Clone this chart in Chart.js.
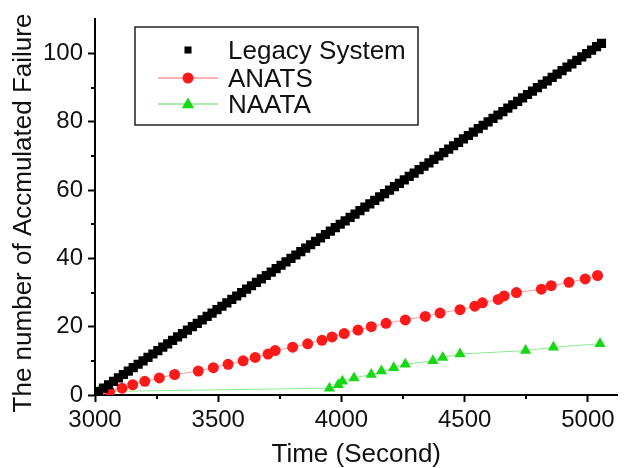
<!DOCTYPE html>
<html>
<head>
<meta charset="utf-8">
<script src="https://cdn.jsdelivr.net/npm/chart.js@4.4.1/dist/chart.umd.min.js"></script>
<style>
  html, body { margin: 0; padding: 0; background: #fff; }
  #wrap { width: 624px; height: 468px; }
</style>
</head>
<body>
<div id="wrap"><canvas id="failChart"></canvas></div>
<script>
// Valori
const seriesNames = ['Legacy System', 'ANATS', 'NAATA'];
const yTitle = 'The number of Accmulated Failure';
const xTitle = 'Time (Second)';

const legacyTime = [
  3015, 3035, 3055, 3075, 3095, 3115, 3135, 3155, 3175, 3195,
  3215, 3235, 3255, 3275, 3295, 3315, 3335, 3355, 3375, 3395,
  3415, 3435, 3455, 3475, 3495, 3515, 3535, 3555, 3575, 3595,
  3615, 3635, 3655, 3675, 3695, 3715, 3735, 3755, 3775, 3795,
  3815, 3835, 3855, 3875, 3895, 3915, 3935, 3955, 3975, 3995,
  4015, 4035, 4055, 4075, 4095, 4115, 4135, 4155, 4175, 4195,
  4215, 4235, 4255, 4275, 4295, 4315, 4335, 4355, 4375, 4395,
  4415, 4435, 4455, 4475, 4495, 4515, 4535, 4555, 4575, 4595,
  4615, 4635, 4655, 4675, 4695, 4715, 4735, 4755, 4775, 4795,
  4815, 4835, 4855, 4875, 4895, 4915, 4935, 4955, 4975, 4995,
  5015, 5035, 5055
];
const legacyFailures = [
  1, 2, 3, 4, 5, 6, 7, 8, 9, 10,
  11, 12, 13, 14, 15, 16, 17, 18, 19, 20,
  21, 22, 23, 24, 25, 26, 27, 28, 29, 30,
  31, 32, 33, 34, 35, 36, 37, 38, 39, 40,
  41, 42, 43, 44, 45, 46, 47, 48, 49, 50,
  51, 52, 53, 54, 55, 56, 57, 58, 59, 60,
  61, 62, 63, 64, 65, 66, 67, 68, 69, 70,
  71, 72, 73, 74, 75, 76, 77, 78, 79, 80,
  81, 82, 83, 84, 85, 86, 87, 88, 89, 90,
  91, 92, 93, 94, 95, 96, 97, 98, 99, 100,
  101, 102, 103
];

const anatsTime = [
  3059, 3110, 3153, 3202, 3261, 3323, 3419, 3480, 3540, 3601,
  3650, 3702, 3731, 3802, 3863, 3921, 3962, 4011, 4067, 4121,
  4181, 4259, 4340, 4400, 4481, 4541, 4572, 4636, 4660, 4710,
  4811, 4851, 4923, 4989, 5039
];
const anatsFailures = [
  1, 2, 3, 4, 5, 6, 7, 8, 9, 10,
  11, 12, 13, 14, 15, 16, 17, 18, 19, 20,
  21, 22, 23, 24, 25, 26, 27, 28, 29, 30,
  31, 32, 33, 34, 35
];

const naataTime = [3014, 3951, 3987, 4004, 4051, 4121, 4162, 4212, 4259, 4371, 4411, 4481, 4747, 4860, 5049];
const naataFailures = [1, 2, 3, 4, 5, 6, 7, 8, 9, 10, 11, 12, 13, 14, 15];

const xTickValues = [3000, 3500, 4000, 4500, 5000];
const xMinorTicks = [3250, 3750, 4250, 4750];
const yTickValues = [0, 20, 40, 60, 80, 100];
const yMinorTicks = [10, 30, 50, 70, 90];

const FONT = 'Liberation Sans, Arial, sans-serif';

function toPoints(xs, ys) {
    return xs.map((x, i) => ({ x: x, y: ys[i] }));
}

// Tacche secondarie (più corte) sugli assi
const minorTicksPlugin = {
    id: 'minorTicks',
    afterDraw(chart) {
        const ctx = chart.ctx;
        const xs = chart.scales.x, ys = chart.scales.y;
        ctx.save();
        ctx.strokeStyle = '#000';
        ctx.lineWidth = 2;
        ctx.beginPath();
        xMinorTicks.forEach(v => {
            const px = Math.round(xs.getPixelForValue(v));
            ctx.moveTo(px, xs.top);
            ctx.lineTo(px, xs.top + 4);
        });
        yMinorTicks.forEach(v => {
            const py = Math.round(ys.getPixelForValue(v));
            ctx.moveTo(ys.right, py);
            ctx.lineTo(ys.right - 4, py);
        });
        ctx.stroke();
        ctx.restore();
    }
};

// Titolo asse Y (spostato un po' in basso come nell'originale)
const yTitlePlugin = {
    id: 'yTitle',
    afterDraw(chart) {
        const ctx = chart.ctx;
        ctx.save();
        ctx.translate(24, 213);
        ctx.rotate(-Math.PI / 2);
        ctx.fillStyle = '#111';
        ctx.font = '26px ' + FONT;
        ctx.textAlign = 'center';
        ctx.textBaseline = 'middle';
        ctx.fillText(yTitle, 0, 0);
        ctx.restore();
    }
};

// Legenda con riquadro dentro l'area del grafico
const boxLegendPlugin = {
    id: 'boxLegend',
    afterDraw(chart) {
        const ctx = chart.ctx;
        const ds = chart.data.datasets;
        const left = 135, top = 27, w = 283, h = 98;
        const rows = [50, 78, 104];
        ctx.save();
        ctx.fillStyle = '#fff';
        ctx.fillRect(left, top, w, h);
        ctx.strokeStyle = '#222';
        ctx.lineWidth = 1.5;
        ctx.strokeRect(left, top, w, h);
        rows.forEach((ry, i) => {
            const d = ds[i];
            if (d.showLine !== false) {
                ctx.strokeStyle = d.borderColor;
                ctx.lineWidth = 1.5;
                ctx.beginPath();
                ctx.moveTo(158, ry);
                ctx.lineTo(218, ry);
                ctx.stroke();
            }
            ctx.fillStyle = d.pointBackgroundColor;
            const cx = 188, r = i === 0 ? 5 : d.pointRadius;
            ctx.beginPath();
            if (d.pointStyle === 'rect') {
                const s = r * Math.SQRT1_2;
                ctx.rect(cx - s, ry - s, 2 * s, 2 * s);
            } else if (d.pointStyle === 'triangle') {
                ctx.moveTo(cx, ry - r);
                ctx.lineTo(cx + r * 0.95, ry + r * 0.65);
                ctx.lineTo(cx - r * 0.95, ry + r * 0.65);
                ctx.closePath();
            } else {
                ctx.arc(cx, ry, r, 0, Math.PI * 2);
            }
            ctx.fill();
            ctx.fillStyle = '#111';
            ctx.font = '26px ' + FONT;
            ctx.textBaseline = 'middle';
            ctx.fillText(seriesNames[i], 228, ry + 2);
        });
        ctx.restore();
    }
};

const ctx = document.getElementById('failChart').getContext('2d');
new Chart(ctx, {
    type: 'scatter',
    data: {
        datasets: [
            {
                label: seriesNames[0],
                data: toPoints(legacyTime, legacyFailures),
                showLine: false,
                pointStyle: 'rect',
                pointRadius: 6.5,
                pointBackgroundColor: '#000',
                pointBorderWidth: 0,
                borderColor: '#000'
            },
            {
                label: seriesNames[1],
                data: toPoints(anatsTime, anatsFailures),
                showLine: true,
                borderColor: '#ff9a9a',
                borderWidth: 1,
                pointStyle: 'circle',
                pointRadius: 5.5,
                pointBackgroundColor: '#ff1a1a',
                pointBorderWidth: 0
            },
            {
                label: seriesNames[2],
                data: toPoints(naataTime, naataFailures),
                showLine: true,
                borderColor: '#8fe88f',
                borderWidth: 1,
                pointStyle: 'triangle',
                pointRadius: 6.5,
                pointBackgroundColor: '#16d816',
                pointBorderWidth: 0
            }
        ]
    },
    options: {
        responsive: true,
        maintainAspectRatio: false,
        animation: false,
        layout: { padding: { top: 9, right: 2, left: 0, bottom: 0 } },
        plugins: {
            legend: { display: false },
            tooltip: { enabled: false }
        },
        scales: {
            x: {
                type: 'linear',
                min: 3000,
                max: 5120,
                afterBuildTicks: scale => { scale.ticks = xTickValues.map(v => ({ value: v })); },
                afterFit: scale => { scale.height = 73; },
                ticks: {
                    color: '#111',
                    font: { family: FONT, size: 24 },
                    padding: 4,
                    maxRotation: 0,
                    autoSkip: false,
                    callback: v => String(v)
                },
                grid: {
                    drawOnChartArea: false,
                    drawTicks: true,
                    tickLength: 7,
                    tickWidth: 2,
                    tickColor: '#000'
                },
                border: { color: '#000', width: 2 },
                title: {
                    display: true,
                    text: xTitle,
                    color: '#111',
                    font: { family: FONT, size: 26, lineHeight: 1.0 },
                    padding: { top: 0, bottom: 0 }
                }
            },
            y: {
                type: 'linear',
                min: 0,
                max: 110,
                afterBuildTicks: scale => { scale.ticks = yTickValues.map(v => ({ value: v })); },
                afterFit: scale => { scale.width = 95; },
                ticks: {
                    color: '#111',
                    font: { family: FONT, size: 24 },
                    padding: 5,
                    callback: v => String(v)
                },
                grid: {
                    drawOnChartArea: false,
                    drawTicks: true,
                    tickLength: 7,
                    tickWidth: 2,
                    tickColor: '#000'
                },
                border: { color: '#000', width: 2 },
                title: { display: false }
            }
        }
    },
    plugins: [minorTicksPlugin, yTitlePlugin, boxLegendPlugin]
});
</script>
</body>
</html>
